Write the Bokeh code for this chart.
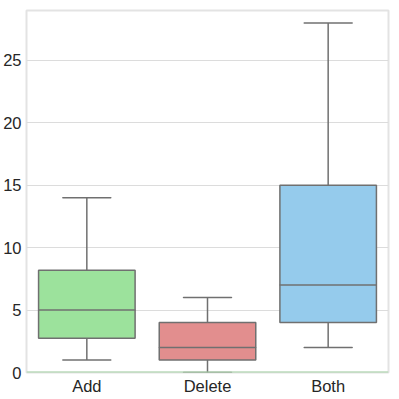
from bokeh.plotting import figure
from bokeh.models import Range1d, FactorRange, FixedTicker, Span
from bokeh.embed import file_html
from bokeh.resources import INLINE

categories = ["Add", "Delete", "Both"]
whisker_low = [1, 0, 2]
q1 = [2.75, 1, 4]
median = [5, 2, 7]
q3 = [8.2, 4, 15]
whisker_high = [14, 6, 28]
colors = ["#9ce29c", "#e28e8e", "#95cbec"]
y_ticks = [0, 5, 10, 15, 20, 25]

line_col = "#707070"
font = "Liberation Sans"

p = figure(x_range=FactorRange(*categories, range_padding=0), y_range=Range1d(0, 29),
           frame_width=362, frame_height=362, output_backend="svg", toolbar_location=None,
           min_border_left=19, min_border_top=10, min_border_right=10, min_border_bottom=20)

p.background_fill_color = "white"
p.outline_line_color = "#e3e3e3"
p.outline_line_width = 2

# whiskers
p.segment(x0=categories, y0=whisker_low, x1=categories, y1=q1, line_color=line_col, line_width=1.5)
p.segment(x0=categories, y0=q3, x1=categories, y1=whisker_high, line_color=line_col, line_width=1.5)
# caps
p.rect(x=categories, y=whisker_low, width=0.4, height=0.0001, line_color=line_col, line_width=1.5, fill_alpha=0)
p.rect(x=categories, y=whisker_high, width=0.4, height=0.0001, line_color=line_col, line_width=1.5, fill_alpha=0)
# boxes
p.vbar(x=categories, bottom=q1, top=q3, width=0.8, fill_color=colors, line_color=line_col, line_width=1.5)
# medians
p.rect(x=categories, y=median, width=0.8, height=0.0001, line_color=line_col, line_width=1.5, fill_alpha=0)

p.add_layout(Span(location=0, dimension="width", line_color="#a8d5a8", line_width=2))

p.xgrid.grid_line_color = None
p.ygrid.grid_line_color = "#dcdcdc"
p.ygrid.grid_line_width = 1.2
p.yaxis.ticker = FixedTicker(ticks=y_ticks)

for ax in (p.xaxis, p.yaxis):
    ax.axis_line_color = None
    ax.major_tick_line_color = None
    ax.minor_tick_line_color = None
    ax.major_tick_out = 0
    ax.major_tick_in = 0
    ax.major_label_text_font = font
    ax.major_label_text_font_size = "16.5px"
    ax.major_label_text_color = "#262626"
p.yaxis.major_label_standoff = 5
p.xaxis.major_label_standoff = 4

open("out.html", "w").write(file_html(p, INLINE))
